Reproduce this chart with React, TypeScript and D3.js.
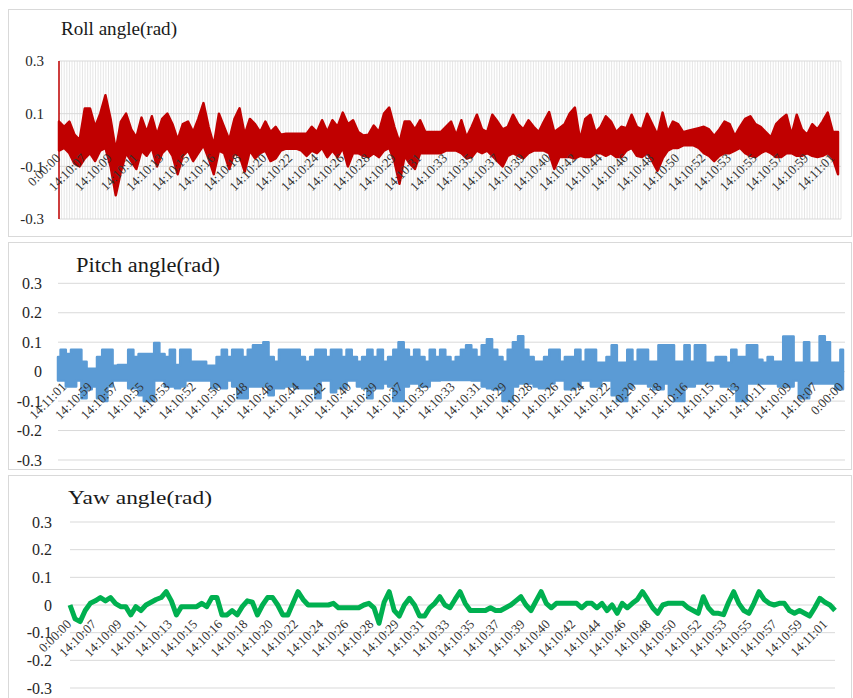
import React, { useEffect, useRef } from 'react';
import * as d3 from 'd3';

// time stamps on the category axis (roll & yaw run left->right, pitch reversed)
const timeLabels = [
  '0:00:00', '14:10:07', '14:10:09', '14:10:11', '14:10:13', '14:10:15', '14:10:16', '14:10:18',
  '14:10:20', '14:10:22', '14:10:24', '14:10:26', '14:10:28', '14:10:29', '14:10:31', '14:10:33',
  '14:10:35', '14:10:37', '14:10:39', '14:10:40', '14:10:42', '14:10:44', '14:10:46', '14:10:48',
  '14:10:50', '14:10:52', '14:10:53', '14:10:55', '14:10:57', '14:10:59', '14:11:01'
];

const rollTicks = [0.3, 0.1, -0.1, -0.3];
const fullTicks = [0.3, 0.2, 0.1, 0, -0.1, -0.2, -0.3];

// roll angle: upper / lower envelope of the fast oscillating signal
const rollUpper = [
  0.07, 0.05, 0.07, 0.02, 0.0, 0.12, 0.12, 0.05, 0.1, 0.17,
  0.08, -0.04, 0.07, 0.1, 0.04, 0.01, 0.085, 0.03, 0.09, 0.02,
  0.08, 0.1, 0.06, 0.0, 0.06, 0.07, 0.03, 0.08, 0.14, 0.05,
  -0.02, 0.1, 0.05, 0.0, 0.08, 0.12, 0.02, 0.08, 0.06, 0.03,
  0.07, 0.03, 0.05, 0.02, 0.024, 0.024, 0.024, 0.024, 0.024, 0.05,
  0.03, 0.075, 0.03, 0.075, 0.05, 0.104, 0.06, 0.075, 0.03, 0.017,
  0.02, 0.055, 0.03, 0.1, 0.123, 0.05, -0.01, 0.07, 0.07, 0.04,
  0.075, 0.03, 0.03, 0.03, 0.03, 0.05, 0.07, 0.017, 0.075, 0.01,
  0.05, 0.096, 0.04, 0.03, 0.096, 0.07, 0.04, 0.05, 0.096, 0.06,
  0.04, 0.075, 0.05, 0.03, 0.07, 0.106, 0.03, 0.045, 0.06, 0.1,
  0.123, 0.0, 0.08, 0.096, 0.03, 0.05, 0.09, 0.07, 0.03, 0.05,
  0.045, 0.096, 0.05, 0.04, 0.1, 0.06, 0.02, 0.104, 0.03, 0.07,
  0.06, 0.03, 0.035, 0.04, 0.045, 0.05, 0.04, 0.015, 0.04, 0.07,
  0.06, 0.015, 0.05, 0.08, 0.09, 0.06, 0.05, 0.03, 0.01, 0.06,
  0.08, 0.096, 0.02, 0.096, 0.04, 0.02, 0.06, 0.04, 0.07, 0.104,
  0.03, 0.03
];
const rollLower = [
  -0.04, -0.03, -0.05, -0.09, -0.1, -0.07, -0.05, -0.08, -0.04, -0.03,
  -0.1, -0.21, -0.12, -0.05, -0.08, -0.11, -0.04, -0.06, -0.03, -0.1,
  -0.05, -0.03, -0.06, -0.13, -0.06, -0.04, -0.08, -0.05, -0.02, -0.07,
  -0.13, -0.04, -0.05, -0.11, -0.05, -0.06, -0.12, -0.04, -0.07, -0.05,
  -0.04, -0.08, -0.07, -0.04, -0.033, -0.033, -0.033, -0.04, -0.06, -0.04,
  -0.05, -0.03, -0.065, -0.04, -0.065, -0.03, -0.1, -0.05, -0.05, -0.06,
  -0.065, -0.05, -0.065, -0.04, -0.03, -0.08, -0.166, -0.06, -0.09, -0.11,
  -0.05, -0.05, -0.05, -0.05, -0.05, -0.04, -0.04, -0.04, -0.05, -0.07,
  -0.065, -0.04, -0.05, -0.04, -0.06, -0.08, -0.1, -0.06, -0.05, -0.06,
  -0.07, -0.05, -0.04, -0.04, -0.04, -0.05, -0.11, -0.065, -0.065, -0.065,
  -0.07, -0.06, -0.065, -0.065, -0.05, -0.05, -0.06, -0.05, -0.065, -0.065,
  -0.04, -0.03, -0.06, -0.065, -0.05, -0.08, -0.117, -0.07, -0.04, -0.03,
  -0.03, -0.02, -0.02, -0.02, -0.03, -0.05, -0.06, -0.08, -0.06, -0.05,
  -0.05, -0.04, -0.03, -0.05, -0.06, -0.065, -0.05, -0.04, -0.05, -0.065,
  -0.065, -0.05, -0.05, -0.06, -0.06, -0.05, -0.06, -0.065, -0.06, -0.05,
  -0.07, -0.13
];

// pitch angle envelopes
const pitchUpper = [
  0.05, 0.074, 0.06, 0.074, 0.074, 0.034, 0.01, 0.01, 0.05, 0.074,
  0.074, 0.02, 0.023, 0.023, 0.074, 0.05, 0.06, 0.06, 0.06, 0.097,
  0.06, 0.05, 0.074, 0.023, 0.074, 0.074, 0.034, 0.034, 0.034, 0.02,
  0.02, 0.05, 0.074, 0.05, 0.074, 0.074, 0.05, 0.074, 0.09, 0.09,
  0.1, 0.05, 0.034, 0.074, 0.074, 0.074, 0.074, 0.05, 0.034, 0.05,
  0.074, 0.074, 0.05, 0.074, 0.074, 0.05, 0.074, 0.05, 0.034, 0.05,
  0.074, 0.05, 0.074, 0.034, 0.05, 0.074, 0.1, 0.074, 0.05, 0.074,
  0.05, 0.034, 0.074, 0.05, 0.074, 0.05, 0.034, 0.05, 0.074, 0.09,
  0.074, 0.05, 0.09, 0.11, 0.074, 0.05, 0.034, 0.074, 0.1, 0.12,
  0.074, 0.05, 0.034, 0.034, 0.05, 0.074, 0.074, 0.034, 0.05, 0.05,
  0.074, 0.034, 0.074, 0.074, 0.03, 0.03, 0.05, 0.09, 0.03, 0.03,
  0.074, 0.034, 0.074, 0.074, 0.034, 0.034, 0.09, 0.09, 0.09, 0.034,
  0.034, 0.09, 0.034, 0.09, 0.09, 0.03, 0.03, 0.05, 0.05, 0.03,
  0.074, 0.05, 0.05, 0.09, 0.09, 0.04, 0.03, 0.05, 0.034, 0.034,
  0.119, 0.119, 0.03, 0.03, 0.1, 0.03, 0.03, 0.12, 0.1, 0.03,
  0.03, 0.074
];
const pitchLower = [
  -0.03, -0.03, -0.05, -0.05, -0.03, -0.09, -0.06, -0.05, -0.09, -0.1,
  -0.05, -0.03, -0.03, -0.03, -0.056, -0.056, -0.08, -0.1, -0.1, -0.03,
  -0.03, -0.05, -0.05, -0.056, -0.05, -0.03, -0.03, -0.03, -0.03, -0.03,
  -0.056, -0.05, -0.056, -0.03, -0.05, -0.09, -0.09, -0.05, -0.05, -0.05,
  -0.05, -0.08, -0.056, -0.056, -0.05, -0.05, -0.056, -0.056, -0.056, -0.056,
  -0.09, -0.03, -0.03, -0.07, -0.056, -0.056, -0.03, -0.03, -0.05, -0.056,
  -0.09, -0.056, -0.056, -0.04, -0.05, -0.1, -0.1, -0.05, -0.04, -0.04,
  -0.05, -0.05, -0.03, -0.03, -0.028, -0.028, -0.028, -0.028, -0.028, -0.028,
  -0.03, -0.03, -0.05, -0.056, -0.06, -0.06, -0.1, -0.1, -0.05, -0.04,
  -0.04, -0.04, -0.05, -0.056, -0.056, -0.04, -0.03, -0.03, -0.06, -0.06,
  -0.05, -0.03, -0.03, -0.05, -0.05, -0.03, -0.03, -0.08, -0.1, -0.1,
  -0.056, -0.04, -0.04, -0.04, -0.05, -0.06, -0.06, -0.04, -0.08, -0.1,
  -0.1, -0.05, -0.05, -0.04, -0.04, -0.04, -0.04, -0.04, -0.05, -0.05,
  -0.06, -0.1, -0.1, -0.04, -0.04, -0.04, -0.04, -0.04, -0.04, -0.05,
  -0.05, -0.05, -0.03, -0.09, -0.09, -0.04, -0.04, -0.04, -0.04, -0.04,
  -0.06, -0.06
];

// yaw angle
const yawValues = [
  0, -0.05, -0.06, -0.02, 0.006, 0.015, 0.027, 0.015, 0.027, 0.005,
  -0.006, -0.006, -0.036, -0.006, -0.02, 0, 0.01, 0.02, 0.027, 0.048,
  0.015, -0.036, -0.006, -0.006, -0.006, -0.006, 0.006, -0.006, 0.027, 0.027,
  -0.036, -0.036, -0.02, -0.036, -0.006, 0.015, 0.01, -0.036, 0, 0.027,
  0.027, 0, -0.036, -0.036, 0.006, 0.048, 0.02, 0, 0, 0,
  0, 0, 0.006, -0.01, -0.01, -0.01, -0.01, -0.01, 0, 0.006,
  -0.01, -0.066, 0.01, 0.048, -0.02, -0.04, 0, 0.024, 0, -0.04,
  -0.04, -0.01, 0.006, 0.03, 0, -0.01, 0.02, 0.048, 0.006, -0.02,
  -0.02, -0.02, -0.02, -0.01, -0.02, -0.02, -0.01, 0, 0.015, 0.03,
  0, -0.02, 0.015, 0.048, 0.006, -0.01, 0.006, 0.006, 0.006, 0.006,
  0.006, -0.01, 0.006, 0.006, -0.01, 0.006, -0.02, 0, -0.03, 0.006,
  -0.01, 0.006, 0.02, 0.048, 0.02, -0.01, -0.03, 0, 0.006, 0.006,
  0.006, 0.006, -0.01, -0.02, -0.03, 0.03, -0.01, -0.03, -0.03, -0.035,
  0.01, 0.048, 0.006, -0.02, -0.03, 0.006, 0.048, 0.02, 0.006, 0,
  0.006, 0.006, -0.02, -0.03, -0.02, -0.03, -0.04, -0.01, 0.024, 0.01,
  0, -0.02
];

const SERIF = '"Liberation Serif", "Times New Roman", serif';

export default function App() {
  const ref = useRef<SVGSVGElement>(null);

  function drawPanel(svg: any, p: any) {
    const g = svg.append('g');
    g.append('rect')
      .attr('x', 8.5).attr('y', p.frameTop)
      .attr('width', 843).attr('height', p.frameH)
      .attr('fill', '#fff').attr('stroke', '#d9d9d9');

    g.append('text')
      .attr('x', p.titleX).attr('y', p.titleY)
      .attr('font-family', SERIF).attr('font-size', p.titleSize)
      .attr('fill', '#1a1a1a')
      .attr('textLength', p.titleW).attr('lengthAdjust', 'spacingAndGlyphs')
      .text(p.title);

    var y = d3.scaleLinear().domain([-0.3, 0.3]).range([p.bottom, p.top]);
    var n = p.values[0].length;
    var x = d3.scaleLinear().domain([0, n - 1]).range([p.left, p.dataRight]);

    if (p.dense) {
      var xs = d3.scaleLinear().domain([0, 300]).range([p.left, p.right]);
      g.append('g').selectAll('line').data(d3.range(0, 301)).enter().append('line')
        .attr('x1', (d: number) => xs(d)).attr('x2', (d: number) => xs(d))
        .attr('y1', y(0.3)).attr('y2', y(-0.3))
        .attr('stroke', '#e6e6e6').attr('stroke-width', 1);
    }

    g.append('g').selectAll('line').data(p.ticks).enter().append('line')
      .attr('x1', p.left).attr('x2', p.right)
      .attr('y1', (d: number) => y(d)).attr('y2', (d: number) => y(d))
      .attr('stroke', '#d9d9d9').attr('stroke-width', 1);

    g.append('g').selectAll('text').data(p.ticks).enter().append('text')
      .attr('x', p.yLabelRight).attr('y', (d: number) => y(d))
      .attr('dy', '0.35em')
      .attr('text-anchor', 'end')
      .attr('font-family', SERIF).attr('font-size', p.yFont)
      .attr('fill', '#262626')
      .text((d: number) => (d === 0 ? '0' : d.toFixed(1)));

    if (p.values.length === 2) {
      var area = d3.area<number>()
        .x((d, i) => x(i))
        .y0((d, i) => y(p.values[1][i]))
        .y1((d, i) => y(p.values[0][i]))
        .curve(p.curve);
      g.append('path')
        .attr('d', area(p.values[0]))
        .attr('fill', p.color)
        .attr('stroke', p.color).attr('stroke-width', 2.5).attr('stroke-linejoin', 'round');
    } else {
      var line = d3.line<number>().x((d, i) => x(i)).y((d) => y(d));
      g.append('path')
        .attr('d', line(p.values[0]))
        .attr('fill', 'none')
        .attr('stroke', p.color).attr('stroke-width', 5).attr('stroke-linejoin', 'round');
    }

    if (p.axisLine) {
      g.append('line')
        .attr('x1', p.left).attr('x2', p.left)
        .attr('y1', y(0.3)).attr('y2', y(-0.3))
        .attr('stroke', p.color).attr('stroke-width', 1.5);
    }

    var xl = d3.scalePoint().domain(p.labels).range([p.labelStart, p.labelEnd]);
    g.append('g').selectAll('text').data(p.labels).enter().append('text')
      .attr('transform', (d: string) => 'translate(' + xl(d) + ',' + (y(0) + p.labelOff) + ') rotate(-45)')
      .attr('text-anchor', 'end')
      .attr('font-family', SERIF).attr('font-size', 13)
      .attr('fill', '#333')
      .text((d: string) => d);
  }

  useEffect(() => {
    var svg = d3.select(ref.current);
    svg.selectAll('*').remove();

    drawPanel(svg, {
      frameTop: 9.5, frameH: 227,
      title: 'Roll angle(rad)', titleX: 61, titleY: 35, titleSize: 19, titleW: 116,
      left: 59, right: 841, dataRight: 838, top: 61, bottom: 219,
      ticks: rollTicks, yLabelRight: 44, yFont: 15,
      values: [rollUpper, rollLower], color: '#C00000', curve: d3.curveLinear,
      dense: true, axisLine: true,
      labels: timeLabels, labelStart: 61, labelEnd: 835, labelOff: 19
    });

    drawPanel(svg, {
      frameTop: 242.5, frameH: 227,
      title: 'Pitch angle(rad)', titleX: 76, titleY: 272, titleSize: 20, titleW: 144,
      left: 58, right: 845, dataRight: 843, top: 283.3, bottom: 460,
      ticks: fullTicks, yLabelRight: 42, yFont: 16,
      values: [pitchUpper, pitchLower], color: '#5B9BD5', curve: d3.curveStep,
      dense: false, axisLine: false,
      labels: timeLabels.slice().reverse(), labelStart: 67, labelEnd: 844, labelOff: 16
    });

    drawPanel(svg, {
      frameTop: 475.5, frameH: 240,
      title: 'Yaw angle(rad)', titleX: 68, titleY: 504, titleSize: 19, titleW: 144,
      left: 70, right: 835, dataRight: 835, top: 522, bottom: 688,
      ticks: fullTicks, yLabelRight: 52, yFont: 16,
      values: [yawValues], color: '#00B050',
      dense: false, axisLine: false,
      labels: timeLabels, labelStart: 72, labelEnd: 828, labelOff: 20
    });
  }, []);

  return (
    <svg
      ref={ref}
      width={853}
      height={698}
      style={{ position: 'absolute', left: 0, top: 0, background: '#fff' }}
    />
  );
}
